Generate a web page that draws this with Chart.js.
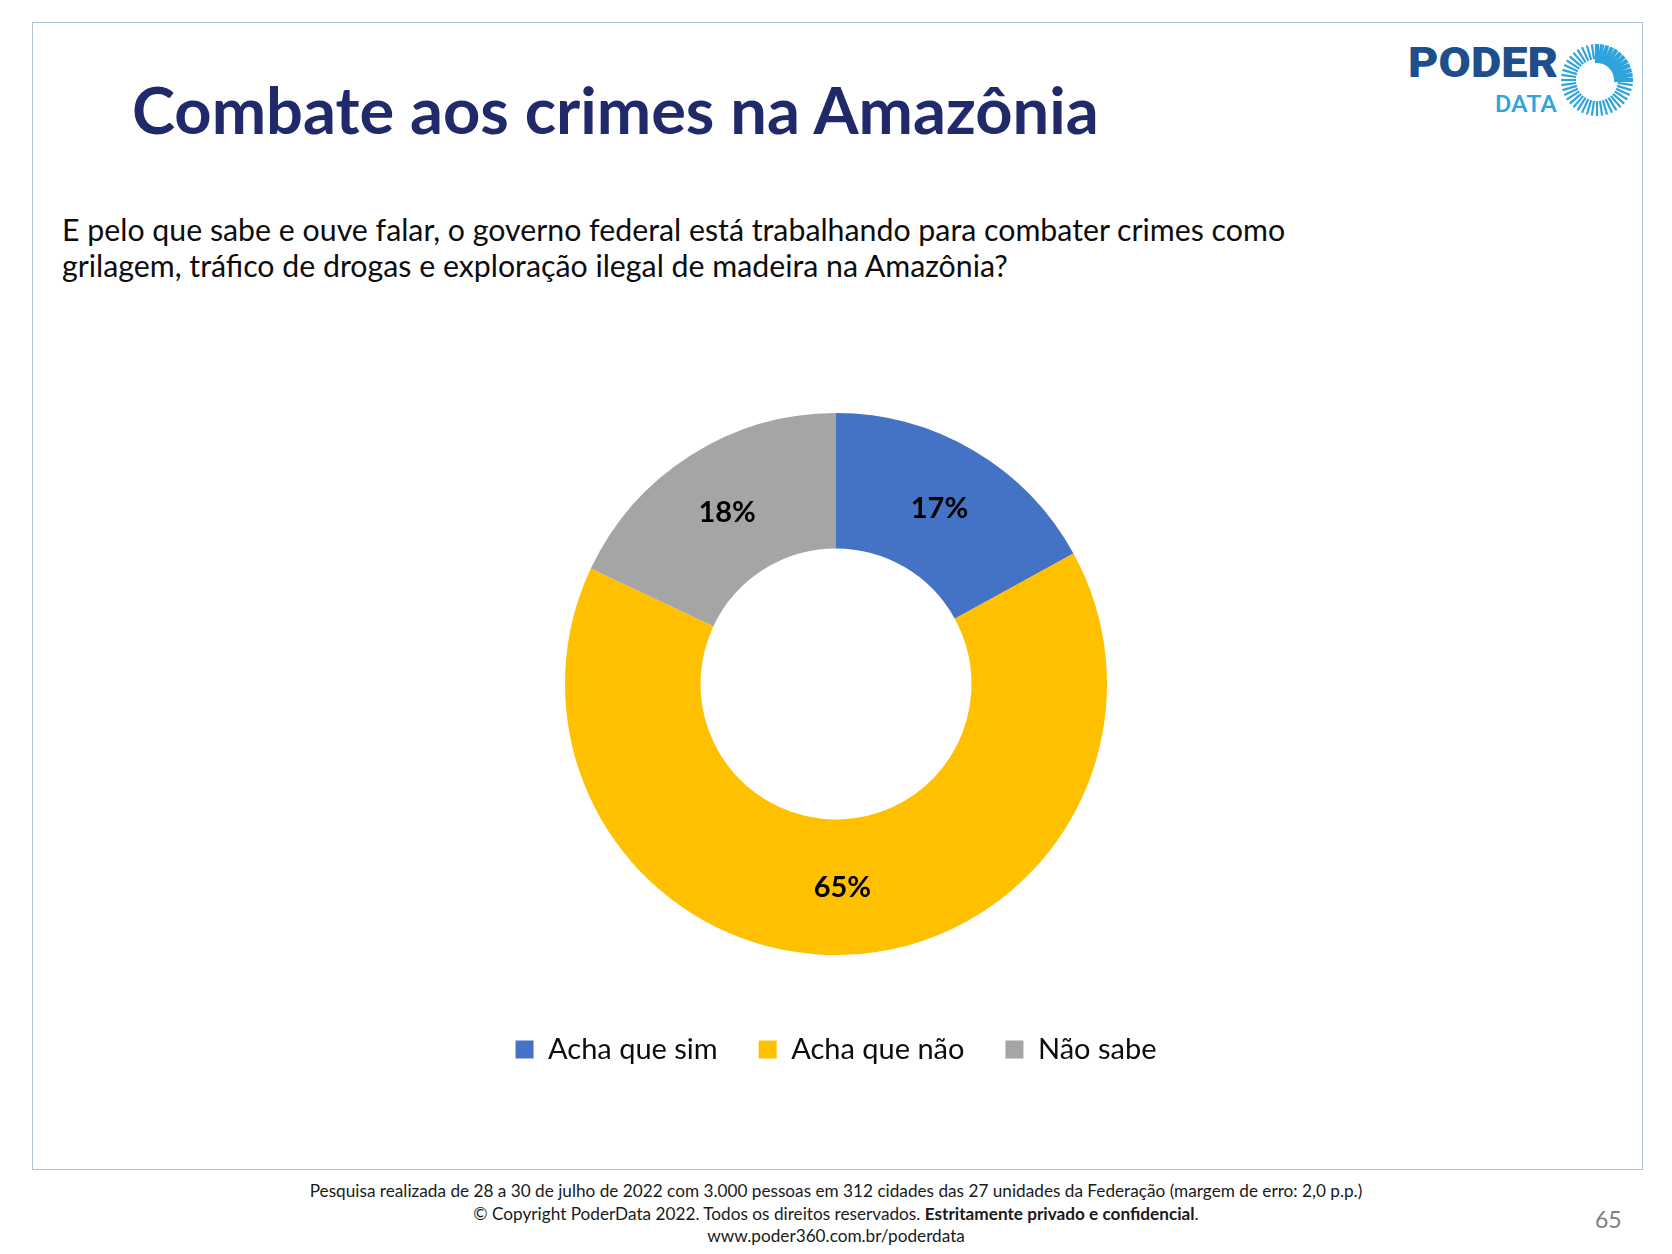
<!DOCTYPE html>
<html>
<head>
<meta charset="utf-8">
<script src="https://cdn.jsdelivr.net/npm/chart.js@4"></script>
<style>
  html, body { margin:0; padding:0; background:#fff; }
  body { width:1672px; height:1254px; position:relative; overflow:hidden; font-family: Lato, "Open Sans", sans-serif; }
  #frame { position:absolute; left:32px; top:22px; width:1611px; height:1148px; border:1px solid #AFC2D6; box-sizing:border-box; }
  #title { position:absolute; left:132px; top:70px; font-weight:700; font-size:65px; line-height:1.2; color:#202A6B; white-space:nowrap; }
  #subtitle { position:absolute; left:62px; top:211px; font-size:30.3px; line-height:36px; color:#0D0D0D; white-space:nowrap; }
  #chartbox { position:absolute; left:0; top:374px; width:1672px; height:700px; }
  #footer { position:absolute; left:236px; width:1200px; top:1180px; text-align:center; font-size:17.2px; line-height:22.5px; color:#1a1a1a; }
  #page { position:absolute; left:1595px; top:1205px; font-size:23px; color:#7F7F7F; }
  #logo { position:absolute; left:1400px; top:40px; }
</style>
</head>
<body>
<div id="frame"></div>
<svg id="logo" width="250" height="90" viewBox="0 0 250 90">
  <text x="8" y="37" font-family="Roboto, 'Liberation Sans', sans-serif" font-weight="900" font-size="42" fill="#1C4F8C" textLength="150" lengthAdjust="spacingAndGlyphs">PODER</text>
  <text x="95" y="72" font-family="Roboto, 'Liberation Sans', sans-serif" font-weight="500" font-size="24" fill="#2FA4DC" textLength="62" lengthAdjust="spacingAndGlyphs">DATA</text>
  <g id="rays"></g>
</svg>
<div id="title">Combate aos crimes na Amazônia</div>
<div id="subtitle">E pelo que sabe e ouve falar, o governo federal está trabalhando para combater crimes como<br>grilagem, tráfico de drogas e exploração ilegal de madeira na Amazônia?</div>
<div id="chartbox"><canvas id="c"></canvas></div>
<div id="footer">Pesquisa realizada de 28 a 30 de julho de 2022 com 3.000 pessoas em 312 cidades das 27 unidades da Federação (margem de erro: 2,0 p.p.)<br>© Copyright PoderData 2022. Todos os direitos reservados. <b>Estritamente privado e confidencial</b>.<br>www.poder360.com.br/poderdata</div>
<div id="page">65</div>
<script>
// ---- data ----
const categories = ["Acha que sim", "Acha que não", "Não sabe"];
const values = [17, 65, 18];
const valueLabels = ["17%", "65%", "18%"];
const colors = ["#4472C4", "#FFC000", "#A5A5A5"];

// ---- logo sunburst (decoration) ----
(function(){
  const g = document.getElementById('rays');
  const cx = 197, cy = 40, n = 44;
  let s = '';
  for (let i = 0; i < n; i++) {
    const a = (i / n) * 2 * Math.PI; // from top clockwise
    const q = a < Math.PI / 2 + 0.05;
    const r1 = q ? 17 : 21, r2 = 36;
    const w = q ? 4.2 : 2.2;
    const x1 = cx + r1 * Math.sin(a), y1 = cy - r1 * Math.cos(a);
    const x2 = cx + r2 * Math.sin(a), y2 = cy - r2 * Math.cos(a);
    s += `<line x1="${x1.toFixed(1)}" y1="${y1.toFixed(1)}" x2="${x2.toFixed(1)}" y2="${y2.toFixed(1)}" stroke="#2FA4DC" stroke-width="${w}"/>`;
  }
  g.innerHTML = s;
})();

// ---- chart ----
const labelPlugin = {
  id: 'sliceLabels',
  afterDatasetsDraw(chart) {
    const ctx = chart.ctx;
    const meta = chart.getDatasetMeta(0);
    ctx.save();
    ctx.font = 'bold 29px Lato, sans-serif';
    ctx.fillStyle = '#000';
    ctx.textAlign = 'center';
    ctx.textBaseline = 'middle';
    meta.data.forEach((arc, i) => {
      const p = arc.tooltipPosition();
      ctx.fillText(valueLabels[i], p.x, p.y);
    });
    ctx.restore();
  }
};

new Chart(document.getElementById('c'), {
  type: 'doughnut',
  data: {
    labels: categories,
    datasets: [{
      data: values,
      backgroundColor: colors,
      borderWidth: 0,
      radius: 271,
      cutout: '50%'
    }]
  },
  options: {
    responsive: true,
    maintainAspectRatio: false,
    animation: false,
    layout: { padding: 0 },
    plugins: {
      tooltip: { enabled: false },
      legend: {
        position: 'bottom',
        labels: {
          boxWidth: 18,
          boxHeight: 18,
          padding: 41,
          color: '#0D0D0D',
          font: { family: 'Lato', size: 29 }
        }
      }
    }
  },
  plugins: [labelPlugin]
});
</script>
</body>
</html>
